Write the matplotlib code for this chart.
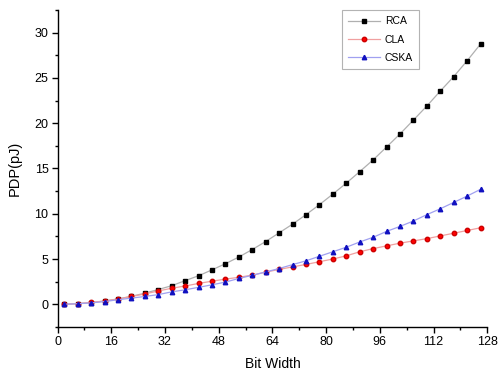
"""
plot.py - PDP vs bit width for RCA / CLA / CSKA adders
"""

import matplotlib
matplotlib.use("Agg")
import matplotlib.pyplot as plt
from matplotlib.ticker import MultipleLocator

# ==============================
# Data
# ==============================
bit_width = [2, 6, 10, 14, 18, 22, 26, 30, 34, 38, 42, 46, 50, 54, 58, 62,
             66, 70, 74, 78, 82, 86, 90, 94, 98, 102, 106, 110, 114, 118, 122, 126]

pdp_rca = [0.0, 0.07, 0.18, 0.36, 0.59, 0.88, 1.22, 1.63, 2.05, 2.61, 3.15, 3.8,
           4.48, 5.22, 6.05, 6.93, 7.89, 8.85, 9.9, 11.0, 12.17, 13.38, 14.65,
           15.95, 17.37, 18.81, 20.35, 21.9, 23.55, 25.15, 26.9, 28.75]

pdp_cla = [0.0, 0.08, 0.2, 0.36, 0.58, 0.86, 1.14, 1.47, 1.77, 2.02, 2.3, 2.55,
           2.78, 2.98, 3.22, 3.55, 3.85, 4.13, 4.4, 4.7, 5.0, 5.35, 5.8, 6.15,
           6.45, 6.75, 7.0, 7.25, 7.55, 7.85, 8.15, 8.45]

pdp_cska = [0.0, 0.06, 0.15, 0.3, 0.5, 0.68, 0.86, 1.07, 1.37, 1.6, 1.87, 2.15,
            2.45, 2.85, 3.2, 3.57, 3.95, 4.38, 4.8, 5.3, 5.8, 6.3, 6.88, 7.4,
            8.05, 8.6, 9.2, 9.9, 10.55, 11.25, 11.95, 12.7]

plt.rcParams["font.family"] = ["Liberation Sans", "DejaVu Sans"]

fig = plt.figure(figsize=(4.98, 3.72), dpi=100)
ax = fig.add_axes([0.1155, 0.12, 0.863, 0.853])

ax.plot(bit_width, pdp_rca, color="#b0b0b0", lw=0.9, marker="s", ms=3.0,
        mfc="black", mec="black", label="RCA")
ax.plot(bit_width, pdp_cla, color="#f0a0a0", lw=0.9, marker="o", ms=3.2,
        mfc="red", mec="#cc0000", label="CLA")
ax.plot(bit_width, pdp_cska, color="#a0a0f0", lw=0.9, marker="^", ms=3.2,
        mfc="#1010c0", mec="#1010c0", label="CSKA")

ax.set_xlim(0, 128)
ax.set_ylim(-2.55, 32.5)
ax.xaxis.set_major_locator(MultipleLocator(16))
ax.xaxis.set_minor_locator(MultipleLocator(8))
ax.yaxis.set_major_locator(MultipleLocator(5))
ax.yaxis.set_minor_locator(MultipleLocator(2.5))

for side in ("top", "right"):
    ax.spines[side].set_visible(False)
for side in ("left", "bottom"):
    ax.spines[side].set_linewidth(1.0)

ax.tick_params(which="major", direction="out", length=4, width=1,
               labelsize=9, pad=2.5)
ax.tick_params(which="minor", direction="out", length=2.5, width=1)

ax.set_xlabel("Bit Width", fontsize=10, labelpad=6)
ax.set_ylabel("PDP(pJ)", fontsize=10.5, labelpad=9)

leg = ax.legend(loc="upper left", bbox_to_anchor=(0.662, 1.0), fontsize=7.5,
                frameon=True, fancybox=False, edgecolor="#a0a0a0",
                handlelength=3.0, borderpad=0.6, labelspacing=0.8,
                handletextpad=0.5, borderaxespad=0)
leg.get_frame().set_linewidth(0.8)

fig.savefig("out.png", dpi=100)
